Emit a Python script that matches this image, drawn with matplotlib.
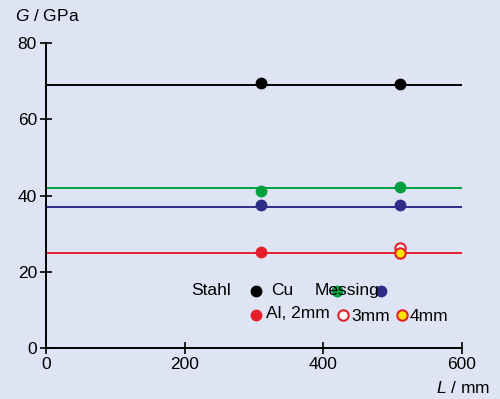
import numpy as np
import matplotlib
matplotlib.use('Agg')
import matplotlib.pyplot as plt

plt.rcParams['font.family'] = ['Liberation Sans', 'DejaVu Sans']
plt.rcParams['font.size'] = 12.5
plt.rcParams['mathtext.fontset'] = 'custom'
plt.rcParams['mathtext.it'] = 'Liberation Sans:italic'
plt.rcParams['mathtext.rm'] = 'Liberation Sans'

# Messwerte: Schubmodul G ueber Laenge L
L_mess = [310, 510]
G_stahl = [69.5, 69.2]
G_cu = [41.3, 42.2]
G_messing = [37.4, 37.5]
G_al2 = [25.1, 25.0]
G_al3 = [26.1]
G_al4 = [24.9]

# Mittelwerte (horizontale Linien)
G_mittel = [69.0, 42.1, 37.0, 25.0]

bg = '#dfe4f4'
schwarz = '#000000'
gruen = '#00a040'
blau = '#2e2e88'
rot = '#e3202a'
gelb = '#ffe600'

fig = plt.figure(figsize=(5, 3.99), dpi=100, facecolor=bg)
ax = fig.add_axes([0.092, 0.128, 0.832, 0.764], facecolor=bg)

farben = [schwarz, gruen, blau, rot]
for g, c in zip(G_mittel, farben):
    ax.plot([0, 600], [g, g], color=c, lw=1.4, zorder=1)

ms = 7.5
ax.plot(L_mess, G_stahl, 'o', color=schwarz, ms=ms, zorder=3)
ax.plot(L_mess, G_cu, 'o', color=gruen, ms=ms, zorder=3)
ax.plot(L_mess, G_messing, 'o', color=blau, ms=ms, zorder=3)
ax.plot(L_mess[:1], G_al2[:1], 'o', color=rot, ms=ms, zorder=3)
ax.plot(L_mess[1:], G_al3, 'o', mfc='white', mec=rot, mew=1.5, ms=ms, zorder=3)
ax.plot(L_mess[1:], G_al4, 'o', mfc=gelb, mec=rot, mew=1.5, ms=ms, zorder=4)

# "Legende" wie im Original, frei im Diagramm platziert
ax.text(210, 15.0, 'Stahl', va='center', ha='left')
ax.plot([303], [15.0], 'o', color=schwarz, ms=ms)
ax.text(324, 15.0, 'Cu', va='center', ha='left')
ax.text(387, 15.0, 'Messing', va='center', ha='left')
ax.plot([420], [15.0], 'o', color=gruen, ms=ms)
ax.plot([483], [15.0], 'o', color=blau, ms=ms)
ax.plot([303], [8.7], 'o', color=rot, ms=ms)
ax.text(318, 9.0, 'Al, 2mm', va='center', ha='left')
ax.plot([429], [8.7], 'o', mfc='white', mec=rot, mew=1.5, ms=ms)
ax.text(440, 8.2, '3mm', va='center', ha='left')
ax.plot([514], [8.7], 'o', mfc=gelb, mec=rot, mew=1.5, ms=ms)
ax.text(524, 8.2, '4mm', va='center', ha='left')

ax.set_xlim(0, 600)
ax.set_ylim(0, 80)
ax.set_xticks([0, 200, 400, 600])
ax.set_yticks([0, 20, 40, 60, 80])
ax.tick_params(direction='inout', length=9, width=1.2, colors='black', labelsize=12.5, pad=2)
for s in ['top', 'right']:
    ax.spines[s].set_visible(False)
for s in ['left', 'bottom']:
    ax.spines[s].set_linewidth(1.4)

fig.text(0.03, 0.96, '$G$ / GPa', fontsize=12.5, ha='left', va='center')
fig.text(0.98, 0.028, '$L$ / mm', fontsize=12.5, ha='right', va='center')

fig.savefig('out.png', dpi=100, facecolor=bg)
